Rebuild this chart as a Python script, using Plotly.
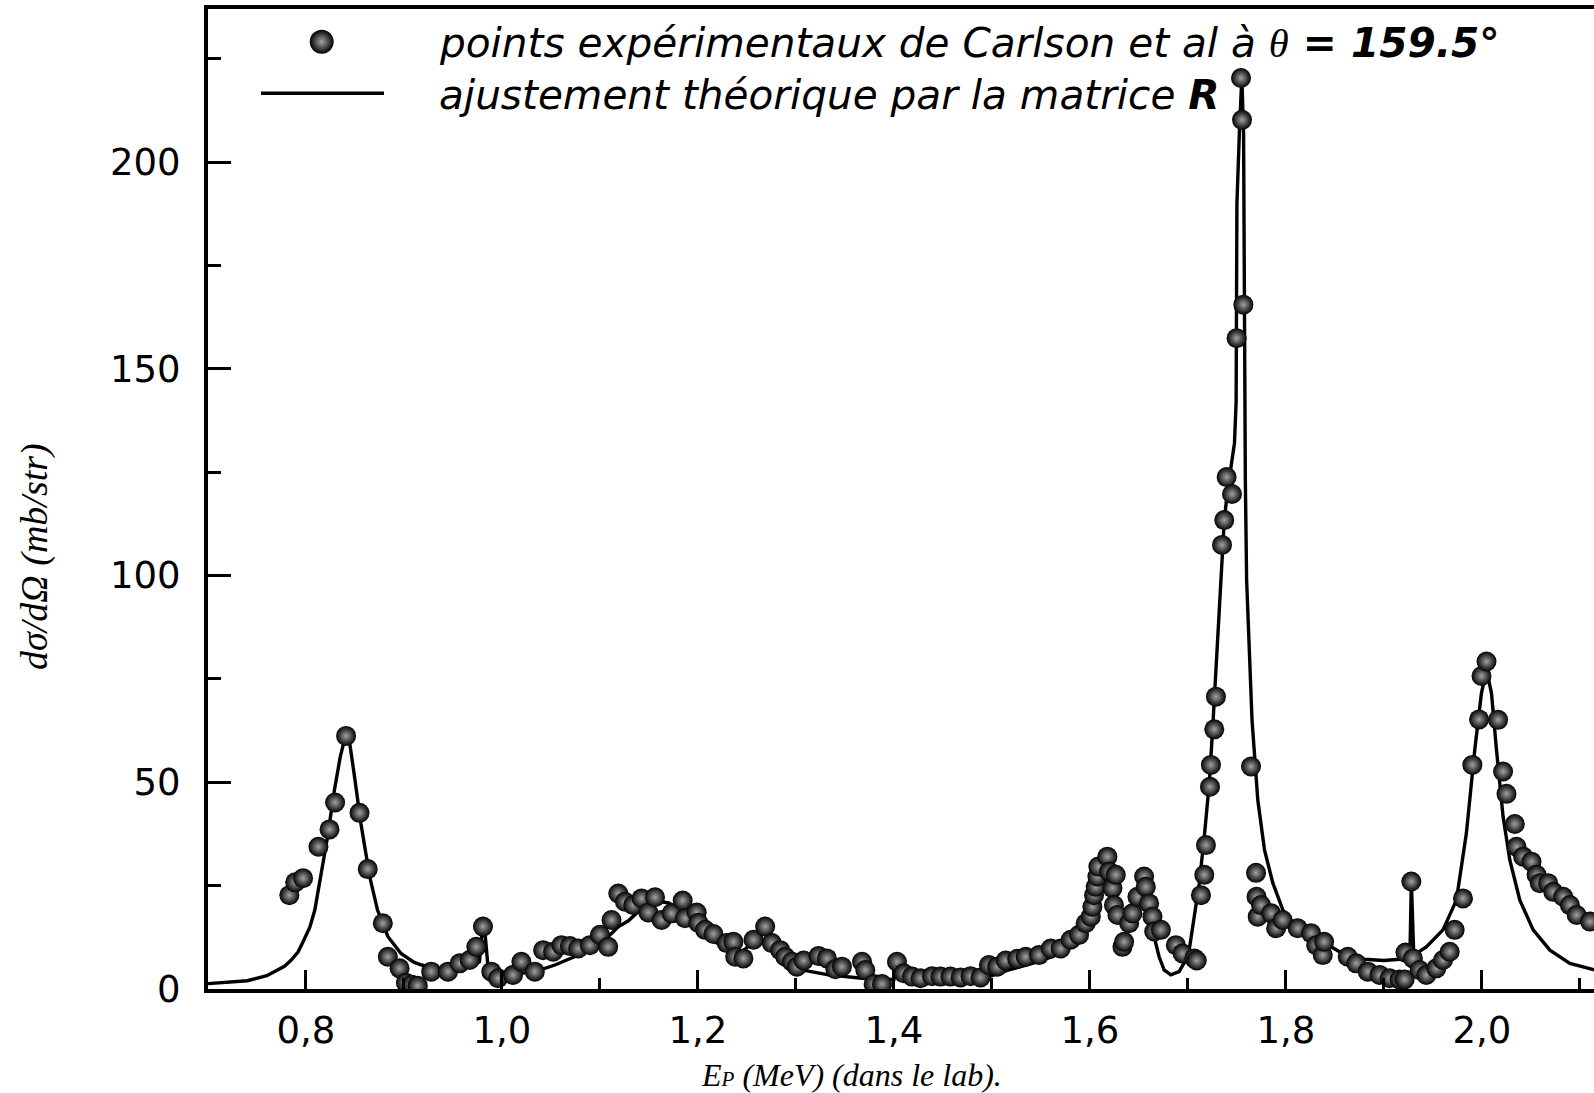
import plotly.graph_objects as go

# ---------------- data ----------------
exp_energy = [0.783, 0.789, 0.797, 0.8127, 0.824, 0.8297, 0.8409, 0.8546, 0.863, 0.8784,
              0.8835, 0.8955, 0.902, 0.908, 0.914, 0.9278, 0.9449, 0.9568, 0.967, 0.9738,
              0.9806, 0.9891, 0.996, 1.0113, 1.0198, 1.0335, 1.042, 1.0522, 1.0607, 1.0693,
              1.0778, 1.0897, 1.100, 1.1084, 1.1118, 1.1187, 1.1255, 1.134, 1.1425, 1.1493,
              1.1562, 1.1629, 1.1731, 1.1844, 1.1868, 1.1987, 1.2004, 1.2073, 1.2158, 1.2294,
              1.2362, 1.238, 1.2464, 1.2567, 1.2686, 1.2754, 1.2839, 1.2891, 1.2958, 1.3009,
              1.3078, 1.3231, 1.3316, 1.3402, 1.3469, 1.3674, 1.3708, 1.3793, 1.3878, 1.4031,
              1.410, 1.4185, 1.4271, 1.4389, 1.4475, 1.4577, 1.468, 1.4782, 1.4884, 1.4969,
              1.5054, 1.514, 1.5258, 1.5344, 1.548, 1.560, 1.5702, 1.5804, 1.5889, 1.5957,
              1.6009, 1.6025, 1.6042, 1.6059, 1.6076, 1.6086, 1.6178, 1.6196, 1.623, 1.6245,
              1.6264, 1.6281, 1.6332, 1.6349, 1.640, 1.6434, 1.6485, 1.6553, 1.657, 1.6604,
              1.6638, 1.6656, 1.6724, 1.6877, 1.6945, 1.7065, 1.709, 1.7133, 1.7167, 1.7184,
              1.7225, 1.7235, 1.7269, 1.7286, 1.7348, 1.7371, 1.7395, 1.745, 1.7497, 1.7542,
              1.7552, 1.7566, 1.7644, 1.7695, 1.770, 1.7712, 1.7746, 1.785, 1.790, 1.7967,
              1.812, 1.8257, 1.8309, 1.8376, 1.839, 1.8631, 1.8718, 1.8836, 1.8956, 1.9058,
              1.916, 1.9211, 1.922, 1.928, 1.9296, 1.9364, 1.9433, 1.9535, 1.9603, 1.9671,
              1.9722, 1.9807, 1.9903, 1.9971, 1.9996, 2.0047, 2.0165, 2.0216, 2.0251, 2.0336,
              2.0353, 2.0421, 2.0506, 2.0558, 2.0591, 2.0676, 2.0728, 2.083, 2.0898, 2.0967,
              2.1103]
exp_xsec = [22.7, 25.8, 26.8, 34.4, 38.6, 45.1, 61.2, 42.6, 29.0, 15.9,
            7.8, 5.0, 1.5, 1.0, 0.8, 4.2, 4.2, 6.2, 7.0, 10.2,
            15.1, 4.2, 2.6, 3.4, 6.6, 4.2, 9.4, 9.0, 10.6, 10.4,
            9.8, 10.6, 13.1, 10.2, 16.7, 23.1, 21.1, 20.3, 21.9, 18.5,
            22.2, 16.7, 18.3, 21.4, 17.1, 18.5, 16.0, 14.3, 13.3, 11.1,
            11.4, 7.8, 7.4, 11.9, 15.1, 11.1, 9.4, 7.8, 6.6, 5.4,
            6.9, 8.0, 7.4, 4.8, 5.4, 6.6, 4.6, 1.2, 1.2, 6.6,
            3.8, 3.0, 2.6, 3.1, 3.0, 3.0, 2.8, 3.1, 2.8, 5.8,
            5.4, 6.9, 7.3, 7.8, 8.2, 9.8, 9.8, 11.9, 13.1, 15.9,
            17.5, 19.9, 22.7, 24.7, 27.2, 29.6, 32.0, 28.4, 24.4, 20.3,
            27.6, 17.9, 10.2, 11.4, 15.9, 18.3, 22.3, 27.2, 24.7, 20.7,
            17.5, 13.9, 14.3, 10.6, 8.6, 7.4, 6.9, 22.7, 27.6, 34.8,
            48.9, 54.2, 62.8, 70.7, 107.4, 113.4, 123.8, 119.7, 157.4, 220.3,
            210.2, 165.5, 53.8, 28.1, 22.3, 17.5, 20.3, 18.3, 14.7, 16.7,
            14.7, 13.5, 10.6, 8.2, 11.4, 7.8, 6.2, 4.2, 3.4, 2.6,
            2.3, 2.3, 8.8, 26.0, 7.4, 4.6, 3.4, 5.0, 7.0, 9.0,
            14.3, 21.9, 54.2, 65.2, 75.7, 79.2, 65.1, 52.6, 47.2, 39.9,
            34.4, 32.0, 30.8, 27.6, 25.6, 25.6, 23.5, 22.3, 20.3, 17.9,
            16.3]

fit_energy = [0.700, 0.720, 0.740, 0.760, 0.768, 0.778, 0.785, 0.792, 0.798, 0.804,
              0.809, 0.815, 0.822, 0.829, 0.835, 0.840, 0.8444, 0.8495, 0.856, 0.865,
              0.873, 0.8835, 0.897, 0.910, 0.918, 0.938, 0.958, 0.972, 0.977, 0.980,
              0.983, 0.986, 0.993, 1.013, 1.034, 1.054, 1.074, 1.091, 1.105, 1.119,
              1.129, 1.139, 1.150, 1.160, 1.170, 1.180, 1.190, 1.197, 1.207, 1.2175,
              1.231, 1.2447, 1.255, 1.2669, 1.2788, 1.2924, 1.306, 1.3333, 1.3674, 1.3947,
              1.400, 1.403, 1.406, 1.4389, 1.4731, 1.4969, 1.5173, 1.5412, 1.5616, 1.5787,
              1.5906, 1.5991, 1.6059, 1.6111, 1.6162, 1.6213, 1.6264, 1.6315, 1.6383, 1.6469,
              1.6536, 1.658, 1.6638, 1.6706, 1.6757, 1.6825, 1.691, 1.6978, 1.7013, 1.7065,
              1.7116, 1.7167, 1.7218, 1.7252, 1.7279, 1.7303, 1.7337, 1.7371, 1.7405, 1.744,
              1.7475, 1.7492, 1.7497, 1.750, 1.7525, 1.755, 1.7568, 1.7574, 1.7576, 1.7586,
              1.7599, 1.7627, 1.7654, 1.7713, 1.7782, 1.7867, 1.7969, 1.8104, 1.8275, 1.845,
              1.8636, 1.880, 1.8999, 1.916, 1.9265, 1.928, 1.9305, 1.9433, 1.9603, 1.974,
              1.9842, 1.9927, 1.9995, 2.0047, 2.0098, 2.0149, 2.0216, 2.0285, 2.0387, 2.0523,
              2.0694, 2.0898, 2.115]
fit_xsec = [1.3, 1.6, 2.0, 3.2, 4.2, 5.5, 7.0, 9.0, 11.9, 15.0,
            19.1, 27.0, 36.8, 48.1, 56.2, 60.9, 59.8, 51.4, 40.1, 27.2,
            19.1, 12.7, 8.6, 6.5, 5.8, 4.6, 4.8, 5.8, 6.6, 14.3,
            12.7, 4.6, 3.4, 3.6, 4.2, 5.8, 7.8, 9.8, 11.9, 15.1,
            16.5, 18.7, 20.5, 21.2, 20.8, 19.5, 17.8, 16.2, 13.5, 11.4,
            9.4, 9.0, 11.0, 14.2, 9.8, 6.2, 4.6, 3.4, 2.6, 2.3,
            2.3, 5.8, 2.4, 1.8, 2.2, 3.0, 4.6, 6.2, 7.8, 10.2,
            13.5, 17.5, 23.1, 28.0, 31.0, 24.7, 19.9, 16.7, 17.5, 23.1,
            26.4, 22.0, 14.3, 7.8, 4.6, 3.4, 4.2, 7.0, 9.4, 17.5,
            25.6, 36.8, 49.8, 62.7, 74.0, 82.8, 98.9, 113.4, 120.7, 126.0,
            132.0, 142.0, 160.0, 190.0, 207.0, 220.5, 207.0, 175.0, 147.0, 123.1,
            98.9, 78.8, 65.1, 45.7, 33.6, 25.6, 19.1, 15.1, 12.7, 10.3,
            7.8, 7.2, 6.9, 7.2, 7.5, 26.0, 8.2, 10.2, 14.3, 21.5,
            37.7, 57.8, 71.5, 77.2, 71.5, 57.8, 41.7, 31.2, 21.5, 14.3,
            9.4, 6.2, 4.6]

x_tick_values = [0.8, 1.0, 1.2, 1.4, 1.6, 1.8, 2.0]
x_tick_labels = ["0,8", "1,0", "1,2", "1,4", "1,6", "1,8", "2,0"]
x_minor_values = [0.9, 1.1, 1.3, 1.5, 1.7, 1.9, 2.1]
y_tick_values = [0, 50, 100, 150, 200]
y_tick_labels = ["0", "50", "100", "150", "200"]
y_minor_values = [25, 75, 125, 175, 225]

legend_points = "points expérimentaux de Carlson et al à "
legend_fit = "ajustement théorique par la matrice "

# ---------------- figure ----------------
W, H = 1594, 1093
L, R, T, B = 208, 0, 9, 104
PW, PH = W - L - R, H - T - B


def px_x(px):
    return (px - L) / PW


def px_y(py):
    return (H - B - py) / PH


# dark sphere: black rim, light centre (radial gradient colour = centre)
ball = dict(size=20, color="#000000",
            gradient=dict(type="radial", color="#a2a2a2"),
            line=dict(width=0))

fig = go.Figure()
fig.add_trace(go.Scatter(x=fit_energy, y=fit_xsec, mode="lines",
                         line=dict(color="black", width=3.4), hoverinfo="skip"))
fig.add_trace(go.Scatter(x=exp_energy, y=exp_xsec, mode="markers",
                         marker=ball, hoverinfo="skip"))

# legend key (drawn manually)
fig.add_trace(go.Scatter(x=[px_x(321.7)], y=[px_y(41.7)], mode="markers",
                         xaxis="x2", yaxis="y2",
                         marker=dict(ball, size=24), hoverinfo="skip"))
fig.add_shape(type="line", xref="paper", yref="paper",
              x0=px_x(261), x1=px_x(384), y0=px_y(93.3), y1=px_y(93.3),
              line=dict(color="black", width=3.4))

tick_font = dict(family="DejaVu Sans", size=37, color="black")

fig.update_layout(
    width=W, height=H,
    margin=dict(l=L, r=R, t=T, b=B, pad=0),
    paper_bgcolor="white", plot_bgcolor="white",
    showlegend=False,
    xaxis=dict(range=[0.7, 2.1144], showline=True, linewidth=4, linecolor="black",
               mirror=True, showgrid=False, zeroline=False,
               ticks="inside", ticklen=19, tickwidth=3, tickcolor="black",
               tickmode="array", tickvals=x_tick_values, ticktext=x_tick_labels,
               tickfont=tick_font, ticklabelstandoff=6,
               minor=dict(ticks="inside", ticklen=11, tickwidth=3, tickcolor="black",
                          tickmode="array", tickvals=x_minor_values)),
    yaxis=dict(range=[0, 237], showline=True, linewidth=4, linecolor="black",
               mirror=False, showgrid=False, zeroline=False,
               ticks="inside", ticklen=23, tickwidth=3, tickcolor="black",
               tickmode="array", tickvals=y_tick_values, ticktext=y_tick_labels,
               tickfont=tick_font, ticklabelstandoff=16,
               minor=dict(ticks="inside", ticklen=13, tickwidth=3, tickcolor="black",
                          tickmode="array", tickvals=y_minor_values)),
    xaxis2=dict(range=[0, 1], domain=[0, 1], overlaying="x", visible=False, anchor="y2"),
    yaxis2=dict(range=[0, 1], domain=[0, 1], overlaying="y", visible=False, anchor="x2"),
)

legend_font = dict(family="DejaVu Sans", size=40.6, color="black")
fig.add_annotation(
    xref="paper", yref="paper", x=px_x(437), y=px_y(43), xanchor="left", yanchor="middle",
    showarrow=False, font=legend_font,
    text=("<i>" + legend_points + "</i>"
          "<span style=\"font-family:'Liberation Serif'\"><i>θ</i></span>"
          "<b><i> = 159.5°</i></b>"))
fig.add_annotation(
    xref="paper", yref="paper", x=px_x(437), y=px_y(95), xanchor="left", yanchor="middle",
    showarrow=False, font=legend_font,
    text="<i>" + legend_fit + "</i><b><i>R</i></b>")

# axis titles
fig.add_annotation(
    xref="paper", yref="paper", x=px_x(34), y=px_y(557), xanchor="center", yanchor="middle",
    textangle=-90, showarrow=False,
    font=dict(family="Liberation Serif", size=38, color="black"),
    text="<i>dσ/dΩ (mb/str)</i>")
fig.add_annotation(
    xref="paper", yref="paper", x=px_x(851), y=px_y(1075), xanchor="center", yanchor="middle",
    showarrow=False,
    font=dict(family="Liberation Serif", size=32, color="black"),
    text="<i>E<span style=\"font-size:21px\">P</span> (MeV) (dans le lab).</i>")

fig.write_html("out.html", config={"displayModeBar": False})
